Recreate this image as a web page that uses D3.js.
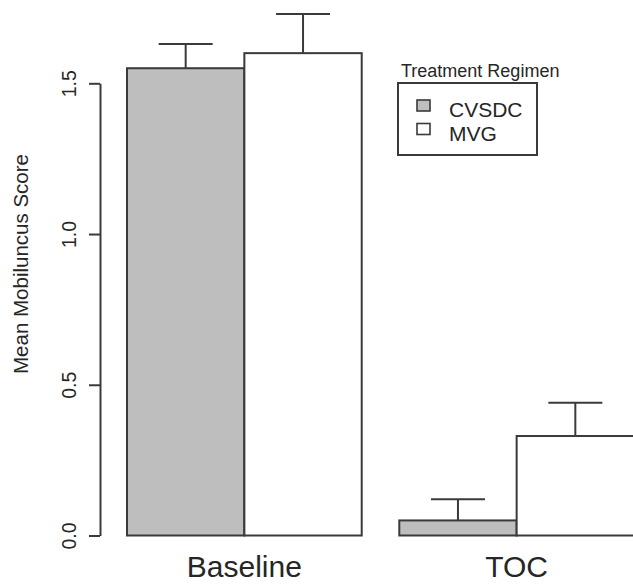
<!DOCTYPE html>
<html>
<head>
<meta charset="utf-8">
<script src="https://cdn.jsdelivr.net/npm/d3@7"></script>
<style>
  body { margin: 0; background: #fff; }
  svg { display: block; font-family: "Liberation Sans", Arial, sans-serif; }
</style>
</head>
<body>
<div id="wrapper"></div>
<script>
const groups = ['Baseline', 'TOC'];
const regimens = ['CVSDC', 'MVG'];
const cvsdcMeans = [1.55, 0.05];
const cvsdcErrors = [0.08, 0.07];
const mvgMeans = [1.60, 0.33];
const mvgErrors = [0.13, 0.11];
const yTicks = [0, 0.5, 1.0, 1.5];
const regimenColors = ['#bebebe', '#ffffff'];

function drawChart() {
  const dimensions = {
    width: 633,
    height: 585,
    barsLeft: 127,
    barsRight: 634,
    axisX: 100,
    yZero: 535.5,
    yTop: 83.3,
  };

  const ink = '#3a3a3a';
  const textInk = '#262626';

  // one row per bar, built from the arrays above
  const rows = [];
  groups.forEach((g, i) => {
    rows.push({ group: g, regimen: regimens[0], mean: cvsdcMeans[i], err: cvsdcErrors[i] });
    rows.push({ group: g, regimen: regimens[1], mean: mvgMeans[i], err: mvgErrors[i] });
  });

  const wrapper = d3
    .select('#wrapper')
    .append('svg')
    .attr('width', dimensions.width)
    .attr('height', dimensions.height);

  const xScale = d3
    .scaleBand()
    .domain(groups)
    .range([dimensions.barsLeft, dimensions.barsRight])
    .paddingInner(0.138)
    .paddingOuter(0);

  const subScale = d3
    .scaleBand()
    .domain(regimens)
    .range([0, xScale.bandwidth()]);

  const colorScale = d3.scaleOrdinal().domain(regimens).range(regimenColors);

  const yScale = d3
    .scaleLinear()
    .domain([0, 1.5])
    .range([dimensions.yZero, dimensions.yTop]);

  const barX = (d) => xScale(d.group) + subScale(d.regimen);
  const barMid = (d) => barX(d) + subScale.bandwidth() / 2;
  const capHalf = subScale.bandwidth() * 0.23;

  // error bars first so the bar outline sits on top
  const errs = wrapper.append('g').attr('class', 'errors');
  errs.selectAll('line.stem')
    .data(rows)
    .join('line')
    .attr('class', 'stem')
    .attr('x1', barMid)
    .attr('x2', barMid)
    .attr('y1', (d) => yScale(d.mean))
    .attr('y2', (d) => yScale(d.mean + d.err))
    .attr('stroke', ink)
    .attr('stroke-width', 2);

  errs.selectAll('line.cap')
    .data(rows)
    .join('line')
    .attr('class', 'cap')
    .attr('x1', (d) => barMid(d) - capHalf)
    .attr('x2', (d) => barMid(d) + capHalf)
    .attr('y1', (d) => yScale(d.mean + d.err))
    .attr('y2', (d) => yScale(d.mean + d.err))
    .attr('stroke', ink)
    .attr('stroke-width', 2);

  wrapper.append('g')
    .attr('class', 'bars')
    .selectAll('rect')
    .data(rows)
    .join('rect')
    .attr('x', barX)
    .attr('width', subScale.bandwidth())
    .attr('y', (d) => yScale(d.mean))
    .attr('height', (d) => yScale(0) - yScale(d.mean))
    .attr('fill', (d) => colorScale(d.regimen))
    .attr('stroke', ink)
    .attr('stroke-width', 2);

  // y axis, R style: rotated tick labels
  const yAxisGenerator = d3.axisLeft(yScale)
    .tickValues(yTicks)
    .tickFormat(d3.format('.1f'))
    .tickSize(11)
    .tickSizeOuter(0);

  const yAxis = wrapper.append('g')
    .attr('transform', `translate(${dimensions.axisX},0)`)
    .call(yAxisGenerator);

  yAxis.select('.domain').attr('stroke', ink).attr('stroke-width', 2);
  yAxis.selectAll('.tick line').attr('stroke', ink).attr('stroke-width', 2);
  yAxis.selectAll('.tick text')
    .attr('transform', 'rotate(-90)')
    .attr('text-anchor', 'middle')
    .attr('x', 0)
    .attr('y', -24)
    .attr('dy', 0)
    .attr('fill', textInk)
    .style('font-size', '19.5px')
    .style('font-family', '"Liberation Sans", Arial, sans-serif');

  wrapper.append('text')
    .attr('transform', 'translate(28,264) rotate(-90)')
    .attr('text-anchor', 'middle')
    .attr('fill', textInk)
    .style('font-size', '20.5px')
    .text('Mean Mobiluncus Score');

  // group labels under the bars
  wrapper.append('g')
    .selectAll('text')
    .data(groups)
    .join('text')
    .attr('x', (d) => xScale(d) + xScale.bandwidth() / 2)
    .attr('y', 577)
    .attr('text-anchor', 'middle')
    .attr('fill', textInk)
    .style('font-size', '30px')
    .text((d) => d);

  // legend
  const legend = wrapper.append('g').attr('class', 'legend');
  legend.append('text')
    .attr('x', 401)
    .attr('y', 77)
    .attr('fill', textInk)
    .style('font-size', '18px')
    .text('Treatment Regimen');

  legend.append('rect')
    .attr('x', 398)
    .attr('y', 83)
    .attr('width', 139)
    .attr('height', 72)
    .attr('fill', 'none')
    .attr('stroke', ink)
    .attr('stroke-width', 2);

  const items = legend.selectAll('g.item')
    .data(regimens)
    .join('g')
    .attr('class', 'item')
    .attr('transform', (d, i) => `translate(0,${i * 23.5})`);

  items.append('rect')
    .attr('x', 417)
    .attr('y', 100)
    .attr('width', 13)
    .attr('height', 11)
    .attr('fill', (d) => colorScale(d))
    .attr('stroke', ink)
    .attr('stroke-width', 1.6);

  items.append('text')
    .attr('x', 449)
    .attr('y', 117)
    .attr('fill', textInk)
    .style('font-size', '21px')
    .text((d) => d);
}

drawChart();
</script>
</body>
</html>
